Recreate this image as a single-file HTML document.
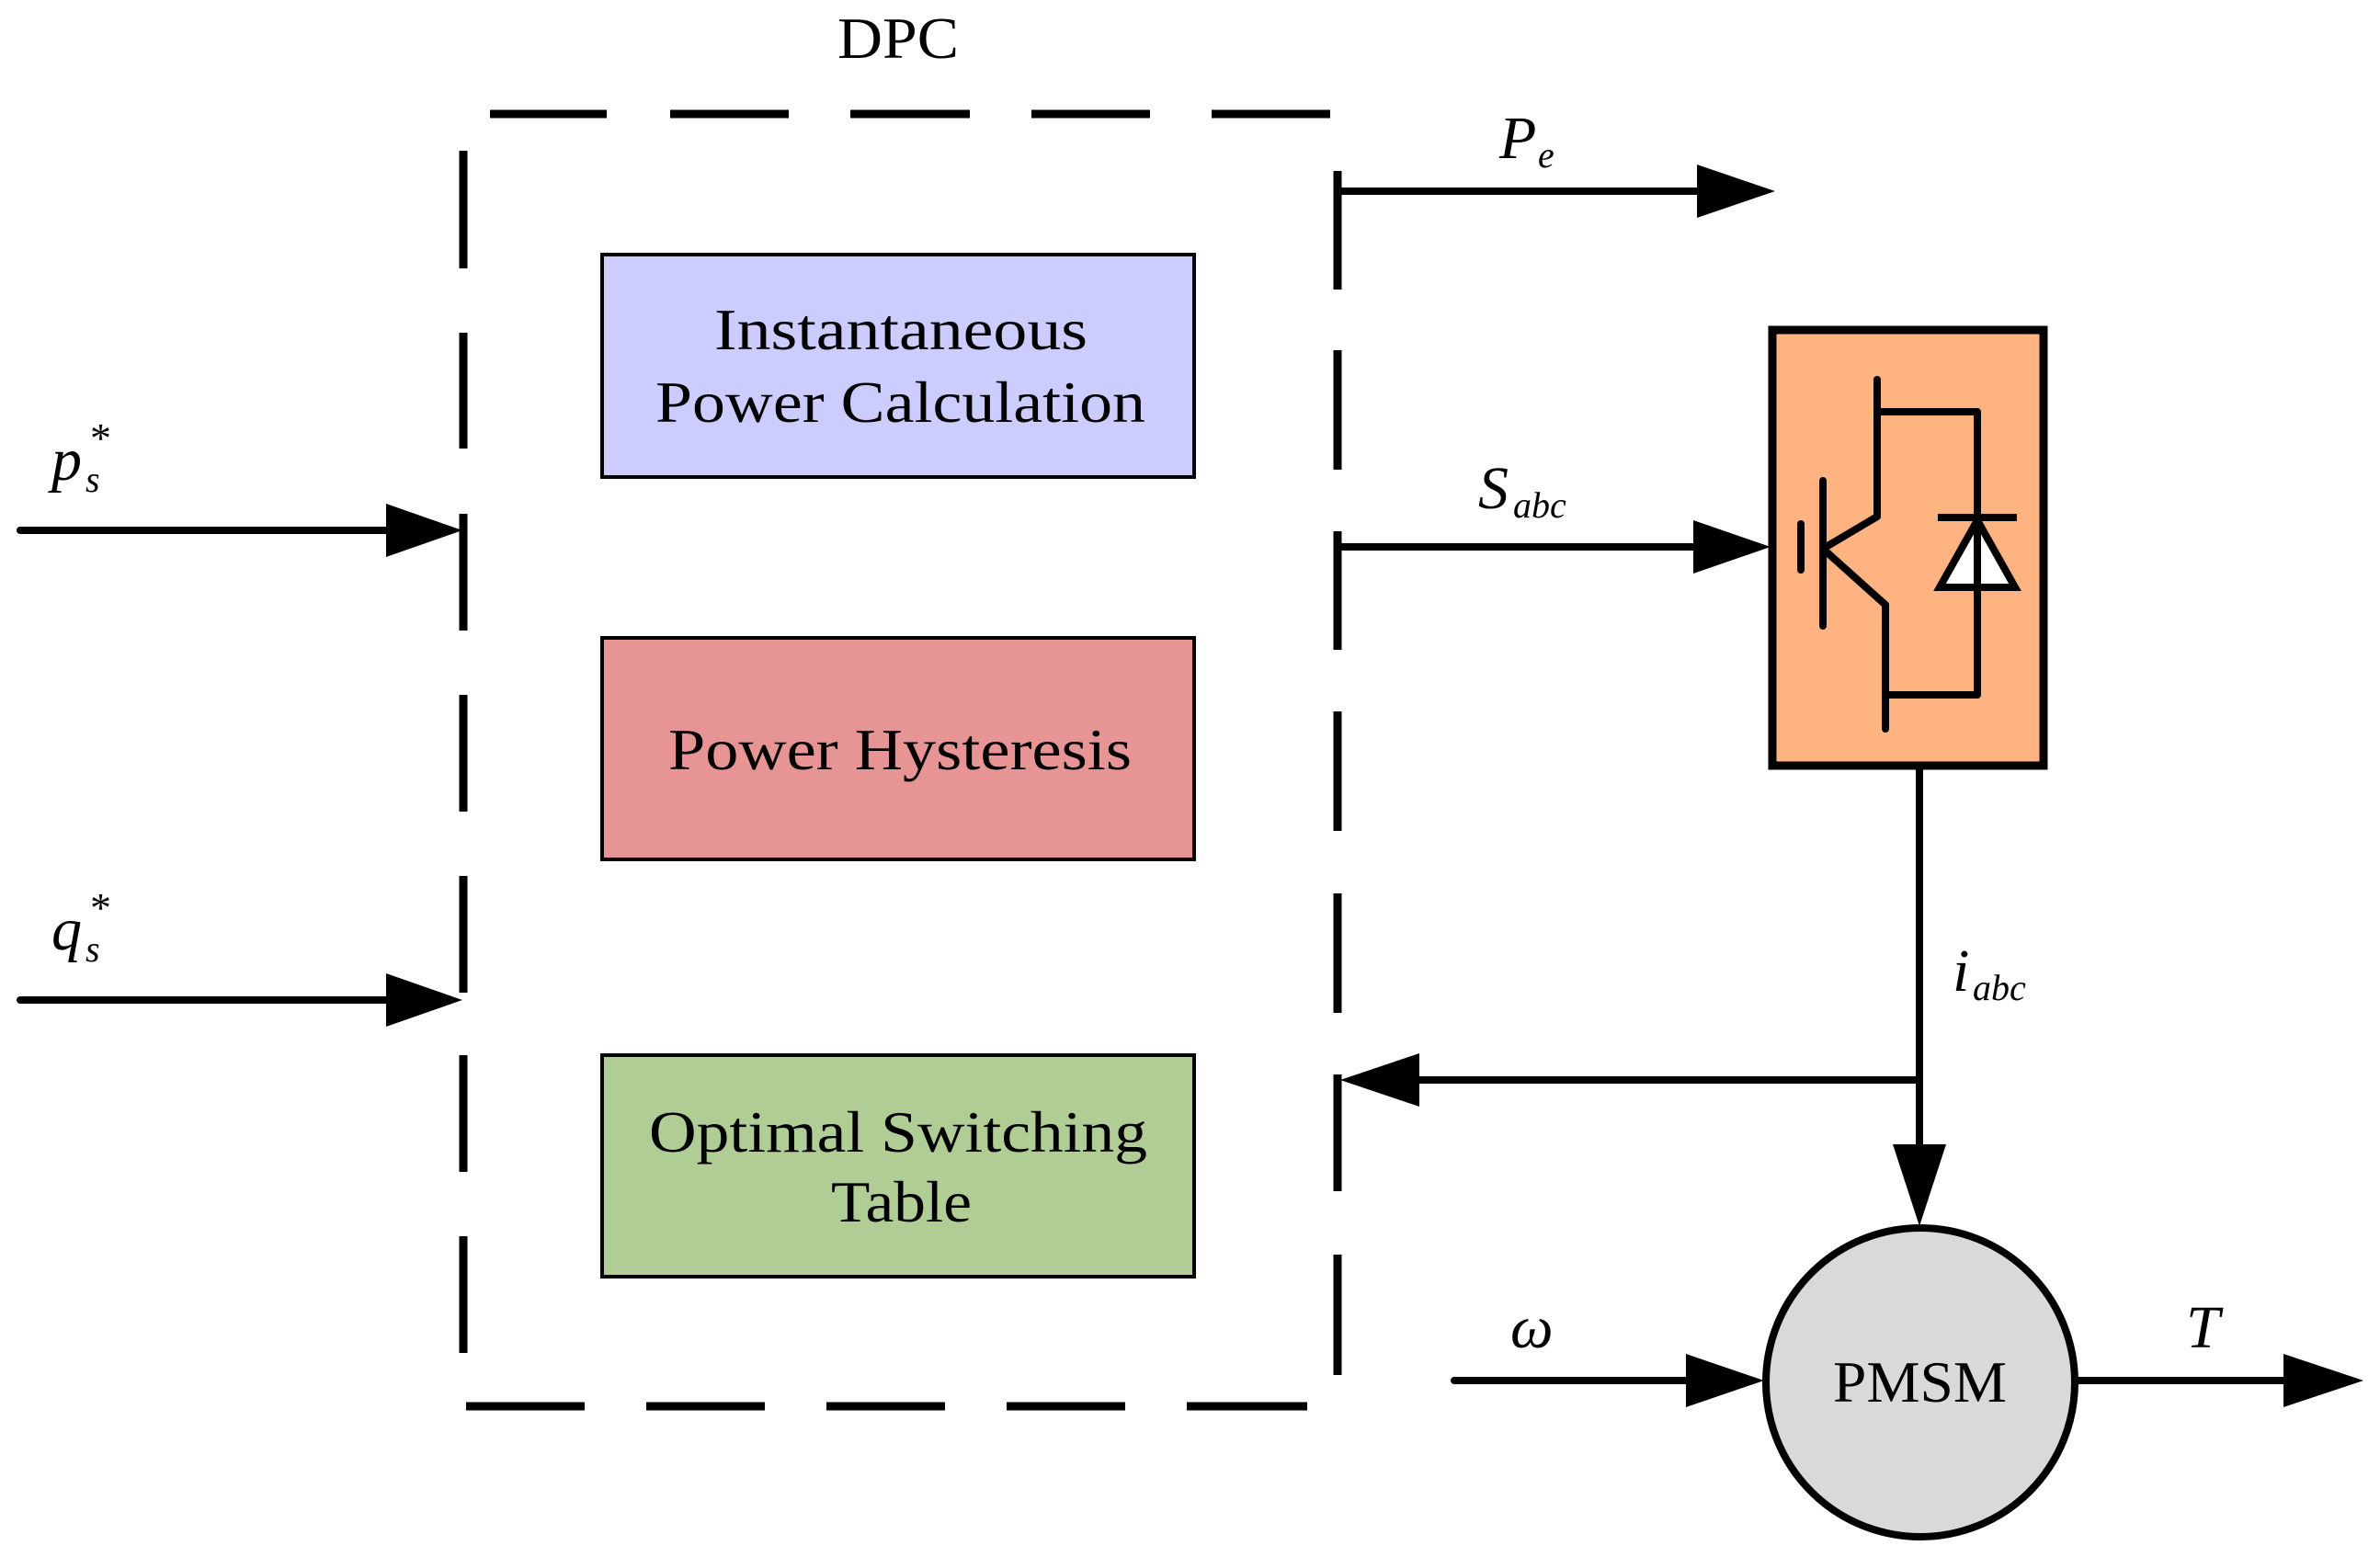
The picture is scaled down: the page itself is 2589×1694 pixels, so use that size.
<!DOCTYPE html>
<html><head><meta charset="utf-8"><style>html,body{margin:0;padding:0;background:#fff}svg{display:block}</style></head>
<body>
<svg width="2589" height="1694" viewBox="0 0 2589 1694" xmlns="http://www.w3.org/2000/svg">
<rect width="2589" height="1694" fill="#fff"/>
<g font-family="Liberation Serif, serif" fill="#000">
<text x="911" y="63" font-size="64" textLength="132" lengthAdjust="spacingAndGlyphs">DPC</text>
</g>
<!-- dashed box -->
<g stroke="#000" stroke-width="9" fill="none">
<path d="M533 124H660M729 124H858M925 124H1055M1122 124H1251M1318 124H1447"/>
<path d="M507 1530H636M703 1530H832M899 1530H1028M1095 1530H1224M1291 1530H1422"/>
<path d="M504 164V292M504 362V488M504 559V686M504 756V883M504 953V1080M504 1148V1275M504 1345V1472"/>
<path d="M1455 186V315M1455 381V511M1455 578V707M1455 774V904M1455 972V1102M1455 1169V1296M1455 1365V1496"/>
</g>
<!-- inner boxes -->
<rect x="655" y="277" width="644" height="242" fill="#ccccff" stroke="#000" stroke-width="4"/>
<rect x="655" y="694" width="644" height="241" fill="#e69494" stroke="#000" stroke-width="4"/>
<rect x="655" y="1148" width="644" height="241" fill="#b0cd96" stroke="#000" stroke-width="4"/>
<g font-family="Liberation Serif, serif" font-size="64" fill="#000">
<text x="777" y="380" textLength="406" lengthAdjust="spacingAndGlyphs">Instantaneous</text>
<text x="713" y="459" textLength="533" lengthAdjust="spacingAndGlyphs">Power Calculation</text>
<text x="727" y="837" textLength="504" lengthAdjust="spacingAndGlyphs">Power Hysteresis</text>
<text x="706" y="1253" textLength="542" lengthAdjust="spacingAndGlyphs">Optimal Switching</text>
<text x="904" y="1329" textLength="153" lengthAdjust="spacingAndGlyphs">Table</text>
</g>
<!-- arrows -->
<g stroke="#000" stroke-width="8" fill="none" stroke-linecap="round">
<path d="M22 577H430"/>
<path d="M22 1088H430"/>
<path d="M1455 208H1850"/>
<path d="M1455 595H1845"/>
<path d="M2088 837V1250"/>
<path d="M2088 1175H1540"/>
<path d="M1582 1502H1840"/>
<path d="M2257 1502H2490"/>
</g>
<g fill="#000">
<polygon points="420,548 503,577 420,606"/>
<polygon points="420,1059 503,1088 420,1117"/>
<polygon points="1846,179 1931,208 1846,237"/>
<polygon points="1842,566 1926,595 1842,624"/>
<polygon points="2059,1245 2088,1334 2117,1245"/>
<polygon points="1544,1146 1458,1175 1544,1204"/>
<polygon points="1834,1473 1919,1502 1834,1531"/>
<polygon points="2484,1473 2571,1502 2484,1531"/>
</g>
<!-- inverter -->
<rect x="1928" y="359" width="295" height="474" fill="#ffb380" stroke="#000" stroke-width="9"/>
<g stroke="#000" stroke-width="8" fill="none" stroke-linecap="round" stroke-linejoin="round">
<path d="M1959 570V620"/>
<path d="M1983 523V681"/>
<path d="M1983 597L2042 562V413"/>
<path d="M2042 448H2151V756H2051"/>
<path d="M1983 597L2051 658V793"/>
<path d="M2108 563H2194" stroke-linecap="butt"/>
</g>
<polygon points="2151,566 2110,639 2192,639" fill="#fff" stroke="#000" stroke-width="8"/>
<path d="M2151 566V639" stroke="#000" stroke-width="8"/>
<!-- PMSM -->
<circle cx="2089" cy="1504" r="168" fill="#d9d9d9" stroke="#000" stroke-width="8"/>
<text x="1994" y="1525" font-family="Liberation Serif, serif" font-size="64" textLength="189" lengthAdjust="spacingAndGlyphs">PMSM</text>
<!-- math labels -->
<g font-family="Liberation Serif, serif" font-style="italic" fill="#000">
<text x="56" y="522" font-size="66">p</text><text x="93" y="535" font-size="40">s</text><text x="98" y="492" font-size="46" font-style="normal">*</text>
<text x="56" y="1033" font-size="66">q</text><text x="93" y="1046" font-size="40">s</text><text x="98" y="1003" font-size="46" font-style="normal">*</text>
<text x="1631" y="172" font-size="66">P</text><text x="1673" y="182" font-size="40">e</text>
<text x="1608" y="553" font-size="66">S</text><text x="1646" y="563" font-size="40">abc</text>
<text x="2124" y="1078" font-size="66">i</text><text x="2146" y="1088" font-size="40">abc</text>
<text x="1643" y="1466" font-size="66">ω</text>
<text x="2378" y="1466" font-size="66">T</text>
</g>
</svg>
</body></html>
